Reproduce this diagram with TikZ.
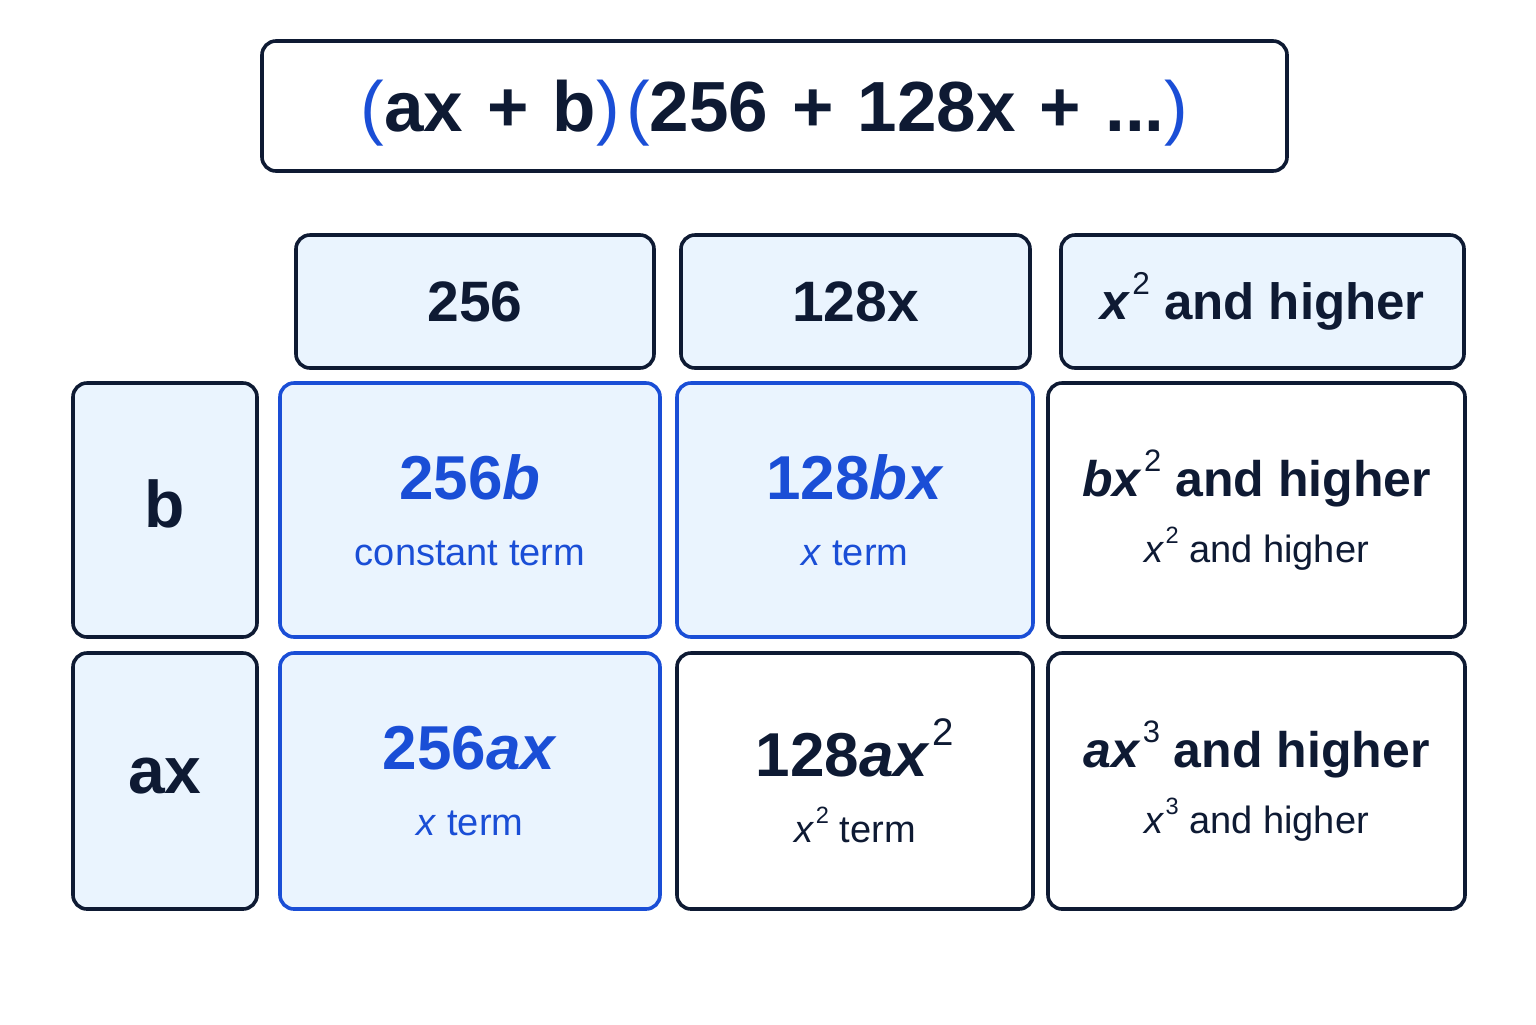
\documentclass[tikz,border=0pt]{standalone}
\usepackage{fontspec}
\setmainfont{Liberation Sans}

\definecolor{ink}{HTML}{0E1A33}
\definecolor{blueink}{HTML}{1A4ED6}
\definecolor{paleblue}{HTML}{EAF4FE}

% raised power, set lighter than the line
\newcommand\pw[1]{\kern.04em\raisebox{.5em}{\scalebox{.62}{\normalfont #1}}}
\newcommand\bp[1]{{\color{blueink}\mdseries #1}}

\tikzset{
  box/.style={rectangle, rounded corners=7pt, line width=1.8pt, draw=ink,
    fill=white, text=ink, inner sep=0pt, align=center},
  headbox/.style={box, fill=paleblue, minimum height=66.5pt,
    font=\fontsize{28.5}{34}\selectfont\bfseries},
  labbox/.style={box, fill=paleblue, minimum width=92pt,
    font=\fontsize{33}{40}\selectfont\bfseries},
  cellbox/.style={box, font=\fontsize{19}{31}\selectfont},
  hotbox/.style={cellbox, draw=blueink, fill=paleblue, text=blueink},
}
\newcommand\main[1]{{\fontsize{31}{31}\selectfont\bfseries #1}}
\newcommand\mainsm[1]{{\fontsize{25}{31}\selectfont\bfseries #1}}

\begin{document}
\begin{tikzpicture}[x=0.5pt, y=-0.5pt]
  \fill[white] (0,0) rectangle (1536,1024);
  \useasboundingbox (0,0) rectangle (1536,1024);

  % the product
  \node[box, minimum width=512.5pt, minimum height=65pt,
    font=\fontsize{35.5}{40}\selectfont\bfseries] (prod) at (774.5,106)
    {\raisebox{-3.5pt}[\height][\depth]{\spaceskip=.34em\bp{(}ax + b\bp{)}\kern3pt\bp{(}256 + 128x + ...\bp{)}}};

  % column heads
  \node[headbox, minimum width=179pt] (h1) at (475,301.5) {256};
  \node[headbox, minimum width=174.5pt] (h2) at (855.5,301.5) {128x};
  \node[headbox, minimum width=201.5pt] (h3) at (1262.5,301.5)
    {\fontsize{25.5}{34}\selectfont\textit{x}\pw{2} and higher};

  % row heads
  \node[labbox, minimum height=127pt] (rb) at (165,510) {\raisebox{6pt}{b}};
  \node[labbox, minimum height=128pt] (rax) at (165,781) {\raisebox{5pt}{ax}};

  % first row
  \node[hotbox, minimum width=190pt, minimum height=127pt] (b1) at (470,510)
    {\main{256\textit{b}}\\[2pt] constant term};
  \node[hotbox, minimum width=178pt, minimum height=127pt] (b2) at (855,510)
    {\main{128\textit{bx}}\\[2pt] \textit{x} term};
  \node[cellbox, minimum width=208.5pt, minimum height=127pt] (b3) at (1256.5,510)
    {\mainsm{\textit{bx}\pw{2} and higher}\\[2pt] \textit{x}\pw{2} and higher};

  % second row
  \node[hotbox, minimum width=190pt, minimum height=128pt] (a1) at (470,781)
    {\main{256\textit{ax}}\\[2pt] \textit{x} term};
  \node[cellbox, minimum width=178pt, minimum height=128pt] (a2) at (855,781)
    {\main{128\textit{ax}\pw{2}}\\[2pt] \textit{x}\pw{2} term};
  \node[cellbox, minimum width=208.5pt, minimum height=128pt] (a3) at (1256.5,781)
    {\mainsm{\textit{ax}\pw{3} and higher}\\[2pt] \textit{x}\pw{3} and higher};
\end{tikzpicture}
\end{document}
